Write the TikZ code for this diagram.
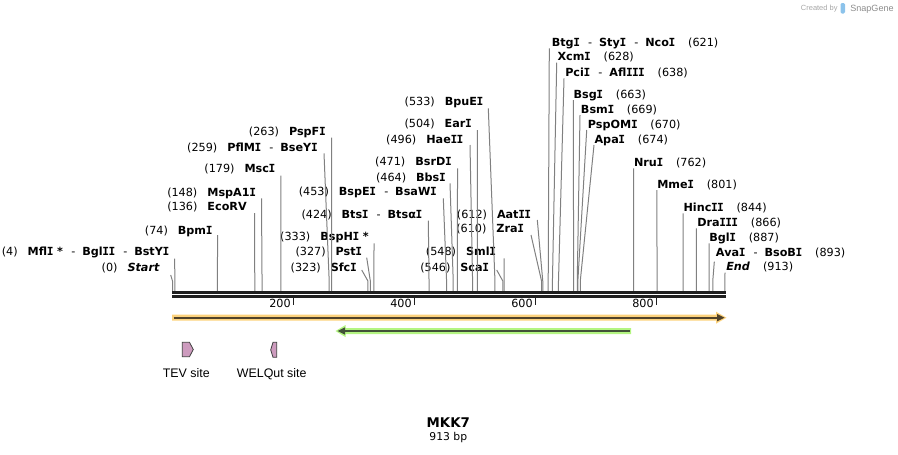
\documentclass[tikz,border=0pt]{standalone}
\usepackage{fontspec}
\setmainfont{DejaVu Sans}
\newfontfamily\arialf{Liberation Sans}
\newfontfamily\monoI{DejaVu Sans Mono}
\definecolor{cutgray}{RGB}{128,128,128}
\definecolor{orgfill}{RGB}{252,210,125}
\definecolor{orgline}{RGB}{80,66,42}
\definecolor{grnfill}{RGB}{180,245,130}
\definecolor{grnline}{RGB}{66,82,56}
\definecolor{featfill}{RGB}{205,155,190}
\definecolor{wmblue}{RGB}{140,195,235}
\newcommand\I{\kern-0.25pt{\monoI I}\kern-0.25pt}
\newcommand\enzsep{\normalfont\hspace{6.3pt}-\hspace{5.2pt}\bfseries}
\newcommand\Lft[2]{#1\hspace{7.5pt}\textbf{#2}}
\newcommand\Rgt[2]{\textbf{#1}\hspace{9.8pt}#2}
\newcommand\cutat[4]{%
  \coordinate (t#1) at (#3,#4);
  \coordinate (k#1) at ({172.5+0.605*#2},281);
  \coordinate (c#1) at ({172.5+0.605*#2},291);
  \draw[cutl] (t#1) -- (k#1) -- (c#1);}
\begin{document}
\begin{tikzpicture}[x=0.75pt,y=-0.75pt,
  lab/.style={inner sep=0pt, font=\fontsize{8.4}{10}\selectfont},
  labL/.style={lab, anchor=base east},
  labR/.style={lab, anchor=base west},
  cutl/.style={draw=cutgray, line width=0.75pt},
  axisl/.style={draw=black!88, line width=2pt},
  tickl/.style={draw=black!88, line width=1.1pt},
  featlab/.style={inner sep=0pt, font=\arialf\fontsize{9.3}{11}\selectfont, anchor=base},
  featshape/.style={fill=featfill, draw=black!75, line width=0.6pt}]
\useasboundingbox (0,0) rectangle (898,454);

% watermark
\node[inner sep=0pt, anchor=base west, font=\arialf\fontsize{5.6}{6}\selectfont, text=black!35] (wm1) at (800.7,10.3) {Created by};
\fill[wmblue, rounded corners=1pt] (840.5,3) rectangle (845,13.5);
\node[inner sep=0pt, anchor=base west, font=\arialf\fontsize{6.8}{7}\selectfont, text=black!45] (wm2) at (850,11.3) {SnapGene};

% left labels
\node[labL] (lStart) at (160,271.3) {(0)\hspace{7.5pt}\textbf{\textit{Start}}};
\node[labL] (lMfl) at (169.3,255.7) {\Lft{(4)}{Mfl\I\ *\enzsep Bgl\I\I\enzsep BstY\I}};
\node[labL] (lBpm) at (212.5,234) {\Lft{(74)}{Bpm\I}};
\node[labL] (lEco) at (247,210.7) {\Lft{(136)}{EcoRV}};
\node[labL] (lMsp) at (256,196.5) {\Lft{(148)}{MspA1\I}};
\node[labL] (lMsc) at (275.3,172.3) {\Lft{(179)}{Msc\I}};
\node[labL] (lPfl) at (317.7,151) {\Lft{(259)}{PflM\I\enzsep BseY\I}};
\node[labL] (lPsF) at (325.7,135) {\Lft{(263)}{PspF\I}};
\node[labL] (lBsH) at (369,240.7) {\Lft{(333)}{BspH\I\ *}};
\node[labL] (lPst) at (362,255.7) {\Lft{(327)}{Pst\I}};
\node[labL] (lSfc) at (356.7,271.3) {\Lft{(323)}{Sfc\I}};
% middle labels
\node[labL] (lBts) at (422.3,218) {\Lft{(424)}{Bts\I\enzsep Btsα\I}};
\node[labL] (lBsE) at (436.7,195.7) {\Lft{(453)}{BspE\I\enzsep BsaW\I}};
\node[labL] (lBbs) at (445.7,181) {\Lft{(464)}{Bbs\I}};
\node[labL] (lBsr) at (451.7,165.7) {\Lft{(471)}{BsrD\I}};
\node[labL] (lHae) at (463.3,143.3) {\Lft{(496)}{Hae\I\I}};
\node[labL] (lEar) at (471.7,127.3) {\Lft{(504)}{Ear\I}};
\node[labL] (lBpu) at (483.3,105.7) {\Lft{(533)}{BpuE\I}};
\node[labL] (lSca) at (489,271.3) {\Lft{(546)}{Sca\I}};
\node[labL] (lSml) at (496,255.7) {\Lft{(548)}{Sml\I}};
\node[labL] (lZra) at (524,232.3) {\Lft{(610)}{Zra\I}};
\node[labL] (lAat) at (531,218) {\Lft{(612)}{Aat\I\I}};
% right labels
\node[labR] (lBtg) at (551.5,46.3) {\Rgt{Btg\I\enzsep Sty\I\enzsep Nco\I}{(621)}};
\node[labR] (lXcm) at (557.3,60.7) {\Rgt{Xcm\I}{(628)}};
\node[labR] (lPci) at (565,76.3) {\Rgt{Pci\I\enzsep Afl\I\I\I}{(638)}};
\node[labR] (lBsg) at (573.3,98) {\Rgt{Bsg\I}{(663)}};
\node[labR] (lBsm) at (580.7,113) {\Rgt{Bsm\I}{(669)}};
\node[labR] (lPsO) at (587.7,128) {\Rgt{PspOM\I}{(670)}};
\node[labR] (lApa) at (594.3,143) {\Rgt{Apa\I}{(674)}};
\node[labR] (lNru) at (633.8,166.3) {\Rgt{Nru\I}{(762)}};
\node[labR] (lMme) at (657,188) {\Rgt{Mme\I}{(801)}};
\node[labR] (lHin) at (683.3,211.3) {\Rgt{Hinc\I\I}{(844)}};
\node[labR] (lDra) at (697,226.3) {\Rgt{Dra\I\I\I}{(866)}};
\node[labR] (lBgl) at (709,241.3) {\Rgt{Bgl\I}{(887)}};
\node[labR] (lAva) at (715.7,256.3) {\Rgt{Ava\I\enzsep BsoB\I}{(893)}};
\node[labR] (lEnd) at (726,270.7) {\textbf{\textit{End}}\hspace{9.8pt}(913)};

% cut lines
\cutat{Start}{0}{170.7}{275}
\cutat{Mfl}{4}{174.6}{258.5}
\cutat{Bpm}{74}{217.7}{235}
\cutat{Eco}{136}{254.5}{213}
\cutat{Msp}{148}{261.5}{198.3}
\cutat{Msc}{179}{280.9}{175.7}
\cutat{Pfl}{259}{324}{153.3}
\cutat{PsF}{263}{331.6}{137.7}
\cutat{BsH}{333}{374}{243.3}
\cutat{Pst}{327}{366.7}{257.7}
\cutat{Sfc}{323}{361.7}{270}
\cutat{Bts}{424}{428.3}{220.7}
\cutat{BsE}{453}{443.3}{198.3}
\cutat{Bbs}{464}{450}{183.3}
\cutat{Bsr}{471}{457.5}{168.3}
\cutat{Hae}{496}{470}{145}
\cutat{Ear}{504}{477.4}{130}
\cutat{Bpu}{533}{488.3}{108.3}
\cutat{Sca}{546}{496.7}{270}
\cutat{Sml}{548}{504}{258.3}
\cutat{Zra}{610}{531}{235}
\cutat{Aat}{612}{537.3}{220}
\cutat{Btg}{621}{549.3}{48.3}
\cutat{Xcm}{628}{556.7}{62.7}
\cutat{Pci}{638}{564}{78.3}
\cutat{Bsg}{663}{573.3}{100}
\cutat{Bsm}{669}{580}{115}
\cutat{PsO}{670}{586.7}{130}
\cutat{Apa}{674}{594}{145}
\cutat{Nru}{762}{633.5}{168.3}
\cutat{Mme}{801}{656.8}{190}
\cutat{Hin}{844}{683.2}{213.3}
\cutat{Dra}{866}{696.4}{228.3}
\cutat{Bgl}{887}{709.1}{243.3}
\cutat{Ava}{893}{714.3}{261.7}
\cutat{End}{913}{725}{272.7}

% axis
\coordinate (axL1) at (172,292.3); \coordinate (axR1) at (725.7,292.3);
\coordinate (axL2) at (172,296.3); \coordinate (axR2) at (725.7,296.3);
\draw[axisl] (axL1) -- (axR1);
\draw[axisl] (axL2) -- (axR2);
\foreach \v/\xx in {200/293.5,400/414.5,600/535.5,800/656.5}{
  \coordinate (tk\v) at (\xx,297);
  \draw[tickl] (tk\v) -- ++(0,8);
  \node[lab, anchor=base east] (tl\v) at (\xx-2.5,307.3) {\v};
}

% orange feature arrow
\fill[orgfill] (172,314.7) -- (716,314.7) -- (716,311.7) -- (726.5,317.7) -- (716,323.7) -- (716,320.7) -- (172,320.7) -- cycle;
\coordinate (oL) at (173.5,317.7); \coordinate (oR) at (718,317.7);
\draw[orgline, line width=1.6pt] (oL) -- (oR);
\fill[orgline] (717,314) -- (724.5,317.7) -- (717,321.4) -- cycle;

% green feature arrow
\fill[grnfill] (631,328) -- (345.5,328) -- (345.5,325) -- (335.5,331) -- (345.5,337) -- (345.5,334) -- (631,334) -- cycle;
\coordinate (gR) at (629.5,331); \coordinate (gL) at (344,331);
\draw[grnline, line width=1.6pt] (gR) -- (gL);
\fill[grnline] (345,327.3) -- (337.5,331) -- (345,334.7) -- cycle;

% small features
\draw[featshape] (182.3,342.3) -- (189.5,342.3) -- (193.3,349.5) -- (189.5,356.7) -- (182.3,356.7) -- cycle;
\draw[featshape] (276.7,342.3) -- (273,342.3) -- (270.7,349.8) -- (273,357.3) -- (276.7,357.3) -- cycle;
\node[featlab] (fTEV) at (186.3,377) {TEV site};
\node[featlab] (fWEL) at (271.7,377) {WELQut site};

% title
\node[inner sep=0pt, font=\bfseries\fontsize{10}{12}\selectfont] (title) at (448.3,422.3) {MKK7};
\node[inner sep=0pt, font=\fontsize{8.1}{10}\selectfont] (len) at (448.3,437.7) {913 bp};
\end{tikzpicture}
\end{document}
